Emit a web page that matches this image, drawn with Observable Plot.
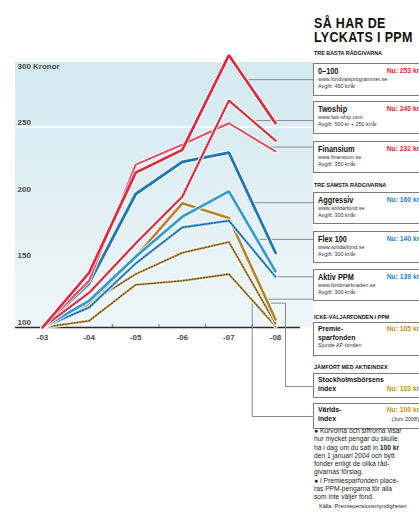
<!DOCTYPE html>
<html>
<head>
<meta charset="utf-8">
<script src="https://cdn.jsdelivr.net/npm/d3@7"></script>
<script src="https://cdn.jsdelivr.net/npm/@observablehq/plot@0.6"></script>
<style>
body{margin:0;background:#fff}
#wrap{position:relative;width:419px;height:526px;overflow:hidden;font-family:"Liberation Sans",Arial,sans-serif}
#bg{position:absolute;left:15px;top:62px;width:298px;height:265px;background:linear-gradient(#d3e9f0,#eef6f9)}
#chart{position:absolute;left:0;top:0}
#panel{position:absolute;left:313px;top:0;width:120px;height:526px}
.title{position:absolute;left:1px;font-weight:bold;font-size:14.5px;line-height:13px;height:13px;color:#111;white-space:nowrap;letter-spacing:0.4px;transform:scaleX(0.86);transform-origin:left top}
.head{position:absolute;left:1px;font-weight:bold;font-size:6px;line-height:7px;color:#111;white-space:nowrap;transform:scaleX(0.9);transform-origin:left top}
.box{position:absolute;left:0;width:111px;box-sizing:border-box;border:1px solid #7c7c7c;background:#fff;padding:2px 4px 0 4px}
.nm{position:relative;font-weight:bold;font-size:8.5px;line-height:10px;color:#111;white-space:nowrap}
.nm2{position:relative;font-weight:bold;font-size:8px;line-height:8.5px;color:#111;white-space:nowrap}
.cn{display:inline-block;transform:scaleX(0.86);transform-origin:left center}
.nu{position:absolute;right:0;top:0;font-size:7.5px;font-weight:bold;transform:scaleX(0.9);transform-origin:right center}
.jn{position:absolute;right:0;top:0;font-size:5.5px;font-weight:normal;color:#333}
.sm{font-size:5.4px;line-height:6.8px;color:#333;white-space:nowrap}
.notes{position:absolute;left:1px;top:427px;font-size:6.7px;line-height:8.3px;color:#222;white-space:nowrap}
.src{font-size:5.6px;padding-left:5px}
</style>
</head>
<body>
<div id="wrap">
  <div id="bg"></div>
  <div id="chart"></div>
  <div id="panel"></div>
</div>
<script>
// ---- data ----
const years = [2003, 2004, 2005, 2006, 2007, 2008];
const yearLabels = ["-03", "-04", "-05", "-06", "-07", "-08"];
const yTicks = [100, 150, 200, 250, 300];
const yTickLabels = ["100", "150", "200", "250", "300 Kronor"];
const funds = ["0–100", "Twoship", "Finansium", "Aggressiv", "Flex 100", "Aktiv PPM",
  "Premiesparfonden", "Stockholmsbörsens index", "Världsindex"];
const val0100 = [100, 141, 216, 233, 304, 253];
const valTwoship = [100, 126, 163, 198, 270, 240];
const valFinansium = [100, 135, 222, 237, 253, 232];
const valAggressiv = [100, 133, 200, 224, 231, 156];
const valFlex = [100, 120, 153, 183, 202, 142];
const valAktiv = [100, 115, 148, 175, 180, 138];
const valPremie = [100, 117, 153, 193, 182, 106];
const valStockholm = [100, 118, 140, 156, 164, 103];
const valVarlds = [100, 105, 132, 135, 140, 101];
const nowKr = [253, 240, 232, 160, 140, 139, 105, 103, 100];
const urls = ["www.fondvalsprogrammet.se", "www.two-ship.com", "www.finansium.se",
  "www.solidarfond.se", "www.solidarfond.se", "www.fondmarknaden.se"];
const fees = ["Avgift: 450 kr/år", "Avgift: 500 kr + 250 kr/år", "Avgift: 350 kr/år",
  "Avgift: 300 kr/år", "Avgift: 300 kr/år", "Avgift: 300 kr/år"];
const headings = ["TRE BÄSTA RÅDGIVARNA", "TRE SÄMSTA RÅDGIVARNA", "ICKE-VÄLJARFONDEN I PPM", "JÄMFÖRT MED AKTIEINDEX"];
const titleLines = ["SÅ HAR DE", "LYCKATS I PPM"];

const seriesValues = [val0100, valTwoship, valFinansium, valAggressiv, valFlex, valAktiv, valPremie, valStockholm, valVarlds];
const rows = funds.flatMap((fund, i) => years.map((year, j) => ({fund, year, value: seriesValues[i][j]})));

// ---- styles / layout ----
const styleOf = {
  "0–100": {stroke: "#e2253a", w: 2.6},
  "Twoship": {stroke: "#ec6a7a", w: 2.6, dash: "#b81e30"},
  "Finansium": {stroke: "#e44a5c", w: 2},
  "Aggressiv": {stroke: "#1e76b6", w: 2.8},
  "Flex 100": {stroke: "#2f9bd6", w: 2.6},
  "Aktiv PPM": {stroke: "#6ab8e4", w: 2.6, dash: "#1b5f98"},
  "Premiesparfonden": {stroke: "#b5842e", w: 2.6},
  "Stockholmsbörsens index": {stroke: "#dcc080", w: 2.6, dash: "#6b4c22"},
  "Världsindex": {stroke: "#dcc080", w: 2.6, dash: "#6b4c22"}
};
const drawOrder = [8, 7, 6, 5, 4, 3, 2, 1, 0];
const W = 419, H = 526, X0 = 42, X1 = 275, Y100 = 327, Y300 = 60;
const invX = px => 2003 + (px - X0) * 5 / (X1 - X0);
const invY = px => 100 + (Y100 - px) * 200 / (Y100 - Y300);
const boxLeftPx = 313;
const connectorSpec = [
  {f: 0.36}, {f: 0.5}, {f: 0.85}, {f: 0.5}, {f: 0.6}, {f: 1}, {f: 0.8},
  {f: 0.75, elbowPx: 285, downPx: 386},
  {f: 0.5, downPx: 416}
];
const connectorRows = connectorSpec.flatMap((c, i) => {
  const v = seriesValues[i];
  const xs = 2007 + c.f, vs = v[4] + c.f * (v[5] - v[4]);
  let pts;
  if (c.downPx && c.elbowPx) pts = [[xs, vs], [invX(c.elbowPx), vs], [invX(c.elbowPx), invY(c.downPx)], [invX(boxLeftPx), invY(c.downPx)]];
  else if (c.downPx) pts = [[xs, vs], [xs, invY(c.downPx)], [invX(boxLeftPx), invY(c.downPx)]];
  else pts = [[xs, vs], [invX(boxLeftPx), vs]];
  return pts.map(p => ({id: i, x: p[0], y: p[1]}));
});

const font = {fontFamily: "Liberation Sans, Arial, sans-serif", fontWeight: "bold", fontSize: 8, fill: "#4a4a4a"};

const marks = [
  Plot.ruleY([250], {x1: invX(15), x2: invX(313), stroke: "white", strokeWidth: 1.3}),
  Plot.ruleY([100], {x1: invX(15), x2: invX(300), stroke: "#2a2a2a", strokeWidth: 1.3}),
  Plot.ruleX([2003.5, 2004.5, 2005.5, 2006.5, 2007.5], {y1: 100, y2: 102.3, stroke: "#555", strokeWidth: 0.8}),
  Plot.text(yTicks.slice(0, 4), {y: d => d, text: (d, i) => yTickLabels[i], frameAnchor: "left", textAnchor: "start", dx: -25, dy: -5, ...font}),
  Plot.text(yTicks.slice(4), {y: d => d, text: () => yTickLabels[4], frameAnchor: "left", textAnchor: "start", dx: -25, dy: 6, ...font}),
  Plot.text(years, {x: d => d, y: () => 100, text: (d, i) => yearLabels[i], dy: 10, ...font}),
  Plot.line(connectorRows, {x: "x", y: "y", z: "id", stroke: "#8a8a8a", strokeWidth: 1})
];
for (const i of drawOrder) {
  const fund = funds[i], s = styleOf[fund];
  const data = rows.filter(r => r.fund === fund);
  marks.push(Plot.line(data, {x: "year", y: "value", stroke: "white", strokeWidth: s.w + 2, strokeOpacity: 0.8, strokeLinejoin: "miter"}));
  marks.push(Plot.line(data, {x: "year", y: "value", stroke: s.stroke, strokeWidth: s.w, strokeLinejoin: "miter"}));
  if (s.dash) marks.push(Plot.line(data, {x: "year", y: "value", stroke: s.dash, strokeWidth: 1.3, strokeDasharray: "1.3,1.6", strokeLinejoin: "miter"}));
}

const chart = Plot.plot({
  width: W, height: H,
  marginLeft: X0, marginRight: W - X1, marginTop: Y300, marginBottom: H - Y100,
  x: {domain: [2003, 2008], axis: null},
  y: {domain: [100, 300], axis: null},
  style: {background: "transparent", overflow: "visible"},
  marks
});
document.getElementById("chart").appendChild(chart);

// ---- right panel ----
const titleTop = [16.5, 31];
const boxTop = [63, 101, 141, 192, 231, 269, 322, 373, 403];
const boxH = [33, 33, 32, 32, 32, 32, 34, 25, 26];
const headTop = [49.5, 181.5, 313.5, 363.5];
const nuColor = ["#e8202e", "#e8202e", "#e8202e", "#2a80c8", "#2a80c8", "#2a80c8", "#c29420", "#c29420", "#c29420"];
const nu = i => `<span class="nu" style="color:${nuColor[i]}">Nu: ${nowKr[i]} kr</span>`;
const cn = t => `<span class="cn">${t}</span>`;
let html = "";
titleLines.forEach((t, i) => { html += `<div class="title" style="top:${titleTop[i]}px">${t}</div>`; });
headings.forEach((h, i) => { html += `<div class="head" style="top:${headTop[i]}px">${h}</div>`; });
for (let i = 0; i < 6; i++) {
  html += `<div class="box" style="top:${boxTop[i]}px;height:${boxH[i]}px">
    <div class="nm">${cn(funds[i])}${nu(i)}</div>
    <div class="sm">${urls[i]}</div><div class="sm">${fees[i]}</div></div>`;
}
html += `<div class="box" style="top:${boxTop[6]}px;height:${boxH[6]}px">
  <div class="nm2">${cn("Premie-")}${nu(6)}</div><div class="nm2">${cn("sparfonden")}</div>
  <div class="sm">Sjunde AP-fonden</div></div>`;
html += `<div class="box" style="top:${boxTop[7]}px;height:${boxH[7]}px">
  <div class="nm2">${cn("Stockholmsbörsens")}</div><div class="nm2">${cn("index")}${nu(7)}</div></div>`;
html += `<div class="box" style="top:${boxTop[8]}px;height:${boxH[8]}px">
  <div class="nm2">${cn("Världs-")}${nu(8)}</div><div class="nm2">${cn("index")}<span class="jn">(Juni 2008)</span></div></div>`;
html += `<div class="notes">● Kurvorna och siffrorna visar<br>hur mycket pengar du skulle<br>ha i dag om du satt in <b>100 kr</b><br>den 1 januari 2004 och bytt<br>fonder enligt de olika råd-<br>givarnas förslag.<br>● I Premiesparfonden place-<br>ras PPM-pengarna för alla<br>som inte väljer fond.<br><span class="src">Källa: Premiepensionsmyndigheten</span></div>`;
document.getElementById("panel").innerHTML = html;
</script>
</body>
</html>
